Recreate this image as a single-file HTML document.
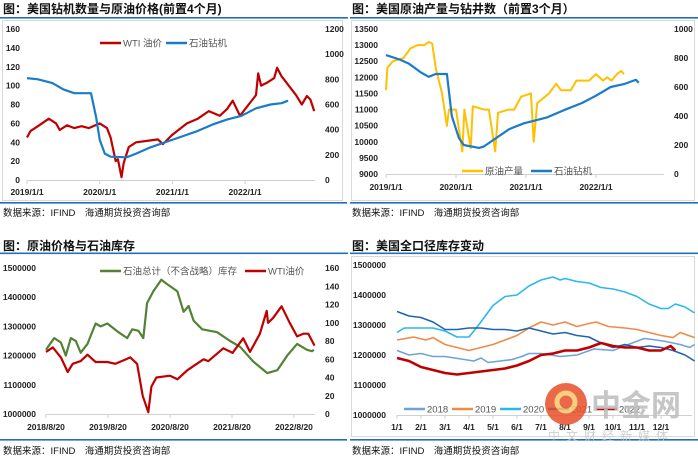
<!DOCTYPE html>
<html><head><meta charset="utf-8"><style>
body{margin:0;background:#fff;}
svg{display:block;font-family:"Liberation Sans","Noto Sans CJK SC",sans-serif;}
.tk{font-size:8.5px;font-weight:bold;fill:#222;}
.ttl{font-size:12px;font-weight:bold;fill:#111;}
.src{font-size:9.5px;fill:#111;}
.lg{font-size:9.5px;fill:#555;}
</style></head><body>
<svg id="s" width="698" height="457" viewBox="0 0 698 457">
<g>
 <text class="ttl" x="3" y="13">图：美国钻机数量与原油价格(前置4个月)</text>
 <rect x="0" y="17" width="348" height="1.6" fill="#1f6fbf"/>
 <rect x="2.5" y="20.5" width="340" height="180" fill="none" stroke="#d9d9d9"/>
 <rect x="0" y="202" width="347" height="1.6" fill="#1f6fbf"/>
 <text class="src" x="3" y="216">数据来源：IFIND　海通期货投资咨询部</text>
 <g id="c1"></g>
</g>
<g>
 <text class="ttl" x="352" y="13">图：美国原油产量与钻井数（前置3个月）</text>
 <rect x="350" y="17" width="348" height="1.6" fill="#1f6fbf"/>
 <rect x="351.5" y="20.5" width="343" height="180" fill="none" stroke="#d9d9d9"/>
 <rect x="350" y="202" width="348" height="1.6" fill="#1f6fbf"/>
 <text class="src" x="352" y="216">数据来源：IFIND　海通期货投资咨询部</text>
 <g id="c2"></g>
</g>
<g>
 <text class="ttl" x="3" y="250">图：原油价格与石油库存</text>
 <rect x="0" y="252.5" width="348" height="1.6" fill="#1f6fbf"/>
 <rect x="0" y="439" width="347" height="1.6" fill="#1f6fbf"/>
 <text class="src" x="3" y="454">数据来源：IFIND　海通期货投资咨询部</text>
 <g id="c3"></g>
</g>
<g>
 <text class="ttl" x="352" y="250">图：美国全口径库存变动</text>
 <rect x="350" y="252.5" width="348" height="1.6" fill="#1f6fbf"/>
 <rect x="351.5" y="256.5" width="343" height="180" fill="none" stroke="#d9d9d9"/>
 <rect x="350" y="439" width="348" height="1.6" fill="#1f6fbf"/>
 <text class="src" x="352" y="454">数据来源：IFIND　海通期货投资咨询部</text>
 <g id="c4"></g>
 <g opacity="0.85">
  <circle cx="566" cy="404" r="21" fill="#e8502a"/>
  <circle cx="566" cy="402" r="9" fill="none" stroke="#f7c66a" stroke-width="5"/>
  <text x="591" y="416" font-size="30" font-weight="bold" fill="#bdbdbd">中金网</text>
  <text x="548" y="440" font-size="12" fill="#c8c8c8" letter-spacing="6">中文财经新媒体</text>
 </g>
</g>
</svg>
<script>
// ---- Chart 1 data ----
const c1WtiDates=[2019.0,2019.05,2019.15,2019.3,2019.4,2019.45,2019.55,2019.65,2019.75,2019.85,2020.0,2020.1,2020.15,2020.22,2020.25,2020.3,2020.33,2020.4,2020.5,2020.7,2020.8,2020.87,2021.0,2021.2,2021.35,2021.5,2021.65,2021.75,2021.83,2021.93,2022.05,2022.15,2022.18,2022.22,2022.3,2022.4,2022.44,2022.5,2022.6,2022.7,2022.78,2022.85,2022.9,2022.95];
const c1WtiValues=[45,52,57,65,60,53,58,55,57,55,60,55,45,20,22,3,18,35,40,42,43,38,48,60,65,73,68,75,84,68,80,90,113,100,103,108,119,110,100,90,80,89,85,73];
const c1RigDates=[2019.0,2019.15,2019.35,2019.5,2019.65,2019.75,2019.88,2019.95,2020.0,2020.07,2020.15,2020.37,2020.5,2020.7,2020.95,2021.15,2021.35,2021.55,2021.75,2021.95,2022.15,2022.35,2022.5,2022.59];
const c1RigValues=[810,800,770,720,690,690,690,500,320,210,185,180,210,260,310,350,390,440,480,510,570,600,610,630];
const c1LeftTicks=[0,20,40,60,80,100,120,140,160];
const c1RightTicks=[0,200,400,600,800,1000,1200];
const c1XTicks=["2019/1/1","2020/1/1","2021/1/1","2022/1/1"];
// ---- Chart 2 data ----
const c2ProdDates=[2019.0,2019.02,2019.1,2019.25,2019.35,2019.45,2019.55,2019.61,2019.66,2019.71,2019.8,2019.87,2019.9,2020.0,2020.09,2020.12,2020.21,2020.24,2020.4,2020.47,2020.56,2020.6,2020.75,2020.83,2020.93,2021.07,2021.11,2021.16,2021.33,2021.43,2021.5,2021.64,2021.72,2021.9,2022.0,2022.1,2022.16,2022.22,2022.3,2022.36,2022.4];
const c2ProdValues=[11600,12300,12500,12600,12900,13000,13000,13100,13050,12300,11500,10500,11000,11000,9700,11000,9800,11100,11000,11000,9700,10900,11000,11000,11400,11500,10000,11200,11500,11800,11600,11600,11900,11900,12100,11900,12000,11900,12100,12200,12100];
const c2RigDates=[2019.0,2019.19,2019.33,2019.5,2019.61,2019.71,2019.87,2019.94,2020.04,2020.11,2020.33,2020.4,2020.61,2020.76,2020.97,2021.3,2021.54,2021.8,2022.0,2022.21,2022.4,2022.57,2022.61];
const c2RigValues=[820,790,760,700,670,690,690,400,250,200,180,190,260,310,350,390,440,490,540,600,620,650,630];
const c2LeftTicks=[9000,9500,10000,10500,11000,11500,12000,12500,13000,13500];
const c2RightTicks=[0,200,400,600,800,1000];
const c2XTicks=["2019/1/1","2020/1/1","2021/1/1","2022/1/1"];
// ---- Chart 3 data ----
const c3InvDates=[2018.64,2018.77,2018.88,2018.96,2019.04,2019.12,2019.2,2019.31,2019.44,2019.52,2019.63,2019.81,2019.95,2020.03,2020.13,2020.21,2020.27,2020.37,2020.5,2020.56,2020.76,2020.86,2020.94,2021.02,2021.16,2021.4,2021.61,2021.77,2021.98,2022.21,2022.37,2022.53,2022.69,2022.85,2022.93,2022.96];
const c3InvValues=[1220000,1260000,1245000,1200000,1260000,1250000,1210000,1240000,1310000,1300000,1310000,1280000,1260000,1290000,1285000,1260000,1380000,1420000,1460000,1450000,1420000,1350000,1370000,1320000,1290000,1280000,1250000,1230000,1180000,1140000,1150000,1200000,1240000,1220000,1215000,1220000];
const c3WtiDates=[2018.64,2018.75,2018.88,2018.99,2019.07,2019.2,2019.31,2019.44,2019.63,2019.76,2020.0,2020.11,2020.2,2020.29,2020.34,2020.42,2020.64,2020.76,2020.92,2021.18,2021.26,2021.5,2021.65,2021.82,2021.93,2022.09,2022.2,2022.22,2022.3,2022.44,2022.57,2022.69,2022.79,2022.87,2022.97];
const c3WtiValues=[68,73,62,46,55,58,65,57,57,55,62,55,20,2,30,40,42,38,48,60,58,72,67,83,68,88,113,100,105,118,100,85,88,88,75];
const c3LeftTicks=[1000000,1100000,1200000,1300000,1400000,1500000];
const c3RightTicks=[0,20,40,60,80,100,120,140,160];
const c3XTicks=["2018/8/20","2019/8/20","2020/8/20","2021/8/20","2022/8/20"];
// ---- Chart 4 data ----
const c4Months=["1/1","2/1","3/1","4/1","5/1","6/1","7/1","8/1","9/1","10/1","11/1","12/1"];
const c4Pos2018=[0,0.5,1,1.5,2,2.8,3.2,3.5,3.8,4.3,4.8,5.2,5.5,6,6.8,7.5,8.2,9,9.8,10.3,10.8,11.2,11.8,12.2,12.4];
const c4Val2018=[1215,1200,1205,1195,1195,1185,1180,1190,1175,1180,1185,1195,1205,1205,1195,1200,1220,1215,1240,1255,1250,1245,1235,1225,1235];
const c4Pos2019=[0,0.7,1.2,1.5,2,2.5,3,3.5,4,4.5,5,5.5,6,6.5,7,7.5,8,8.3,8.8,9.5,10,10.5,11,11.5,11.8,12.4];
const c4Val2019=[1250,1260,1250,1258,1235,1225,1215,1225,1235,1250,1265,1290,1310,1300,1310,1295,1305,1310,1295,1290,1285,1275,1265,1258,1275,1258];
const c4Pos2020=[0,0.3,1,1.5,2,2.5,3,3.4,4,4.5,5,5.5,6,6.5,6.8,7,7.5,8,8.5,9,9.5,10,10.5,11,11.3,11.6,12,12.4];
const c4Val2020=[1275,1290,1290,1290,1280,1260,1260,1300,1365,1395,1400,1430,1450,1460,1450,1455,1445,1440,1425,1420,1410,1395,1370,1355,1355,1370,1360,1340];
const c4Pos2021=[0,0.5,1,1.5,2,2.5,3,3.5,4,4.5,5,5.5,6,6.5,7,7.5,8,8.5,9,9.5,10,10.5,11,11.5,12,12.4];
const c4Val2021=[1345,1330,1325,1310,1285,1285,1290,1290,1285,1285,1280,1290,1280,1270,1275,1265,1260,1240,1225,1235,1225,1230,1225,1215,1200,1180];
const c4Pos2022=[0,0.5,1,1.5,2,2.5,3,3.5,4,4.5,5,5.5,6,6.5,7,7.5,8,8.5,9,9.5,10,10.5,11,11.4,11.6];
const c4Val2022=[1190,1180,1160,1150,1140,1135,1140,1145,1150,1155,1165,1180,1200,1205,1215,1215,1225,1240,1230,1225,1225,1215,1215,1230,1215];
const c4LeftTicks=[1000000,1100000,1200000,1300000,1400000,1500000];
const c4Legend=["2018","2019","2020","2021","2022"];

const NS="http://www.w3.org/2000/svg";
function mk(parent,tag,attrs){const e=document.createElementNS(NS,tag);for(const k in attrs)e.setAttribute(k,attrs[k]);parent.appendChild(e);return e;}
function lin(d0,d1,r0,r1){return v=>r0+(v-d0)/(d1-d0)*(r1-r0);}
function line(g,xs,ys,fx,fy,color,w,name){
  const p=mk(g,'polyline',{points:xs.map((x,i)=>fx(x).toFixed(1)+','+fy(ys[i]).toFixed(1)).join(' '),fill:'none',stroke:color,'stroke-width':w,'stroke-linejoin':'round'});
  
  
  return p;
}
function tickText(g,x,y,s,anchor,name){const t=mk(g,'text',{x:x,y:y,'text-anchor':anchor,class:'tk'});t.textContent=s;
  
  
  return t;}
function legend(g,x,y,color,label,name){mk(g,'line',{x1:x,y1:y,x2:x+21,y2:y,stroke:color,'stroke-width':2.6});const t=mk(g,'text',{x:x+23,y:y+3.5,class:'lg'});t.textContent=label;
  
  }

// Chart 1
(function(){const g=document.getElementById('c1');
 const fx=lin(2019,2020,27,99.7),fyL=lin(0,160,180,29),fyR=lin(0,1200,180,29);
 mk(g,'line',{x1:27,y1:180.5,x2:315,y2:180.5,stroke:'#d0d0d0'});
 c1XTicks.forEach((s,i)=>{const x=fx(2019+i);mk(g,'line',{x1:x,y1:180,x2:x,y2:184,stroke:'#d0d0d0'});tickText(g,x,195,s,'middle','x-tick-label');});
 c1LeftTicks.forEach(v=>tickText(g,20,fyL(v)+3,String(v),'end','left-tick-label'));
 c1RightTicks.forEach(v=>tickText(g,325,fyR(v)+3,String(v),'start','right-tick-label'));
 line(g,c1WtiDates,c1WtiValues,fx,fyL,'#c00000',2.2,'wti-price-line');
 line(g,c1RigDates,c1RigValues,fx,fyR,'#1a7cc9',2.2,'oil-rig-line');
 legend(g,100,43,'#c00000','WTI 油价','legend-wti');legend(g,166,43,'#1a7cc9','石油钻机','legend-rig');})();
// Chart 2
(function(){const g=document.getElementById('c2');
 const fx=lin(2019,2020,386,456),fyL=lin(9000,13500,174,29),fyR=lin(0,1000,174,29);
 mk(g,'line',{x1:386,y1:174.5,x2:664,y2:174.5,stroke:'#d0d0d0'});
 c2XTicks.forEach((s,i)=>{const x=fx(2019+i);mk(g,'line',{x1:x,y1:174,x2:x,y2:178,stroke:'#d0d0d0'});tickText(g,x,190,s,'middle','x-tick-label');});
 c2LeftTicks.forEach(v=>tickText(g,378,fyL(v)+3,String(v),'end','left-tick-label'));
 c2RightTicks.forEach(v=>tickText(g,674,fyR(v)+3,String(v),'start','right-tick-label'));
 line(g,c2ProdDates,c2ProdValues,fx,fyL,'#ffc000',2,'production-line');
 line(g,c2RigDates,c2RigValues,fx,fyR,'#1a7cc9',2.2,'rig-count-line');
 legend(g,462,171,'#ffc000','原油产量','legend-production');legend(g,531,171,'#1a7cc9','石油钻机','legend-rig');})();
// Chart 3
(function(){const g=document.getElementById('c3');
 const fx=lin(2018.64,2019.64,46,108),fyL=lin(1000000,1500000,414,268),fyR=lin(0,160,414,268);
 mk(g,'line',{x1:46,y1:414.5,x2:315,y2:414.5,stroke:'#d0d0d0'});
 c3XTicks.forEach((s,i)=>{const x=fx(2018.64+i);mk(g,'line',{x1:x,y1:414,x2:x,y2:418,stroke:'#d0d0d0'});tickText(g,x,430,s,'middle','x-tick-label');});
 c3LeftTicks.forEach(v=>tickText(g,36,fyL(v)+3,String(v),'end','left-tick-label'));
 c3RightTicks.forEach(v=>tickText(g,325,fyR(v)+3,String(v),'start','right-tick-label'));
 line(g,c3InvDates,c3InvValues,fx,fyL,'#548235',2.2,'inventory-line');
 line(g,c3WtiDates,c3WtiValues,fx,fyR,'#c00000',2.2,'wti-price-line');
 legend(g,100,271,'#548235','石油总计（不含战略）库存','legend-inventory');legend(g,245,271,'#c00000','WTI油价','legend-wti');})();
// Chart 4
(function(){const g=document.getElementById('c4');
 const fx=lin(0,1,397,421),fy=lin(1000,1500,415,265),fyT=lin(1000000,1500000,415,265);
 mk(g,'line',{x1:397,y1:415.5,x2:692,y2:415.5,stroke:'#d0d0d0'});
 c4Months.forEach((s,i)=>{const x=fx(i);mk(g,'line',{x1:x,y1:415,x2:x,y2:419,stroke:'#d0d0d0'});tickText(g,x,430,s,'middle','x-tick-label');});
 c4LeftTicks.forEach(v=>tickText(g,386,fyT(v)+3,String(v),'end','left-tick-label'));
 const cols=['#6fa3d8','#f08a48','#2db7ee','#1f64b0','#c00000'];
 const P=[c4Pos2018,c4Pos2019,c4Pos2020,c4Pos2021,c4Pos2022],V=[c4Val2018,c4Val2019,c4Val2020,c4Val2021,c4Val2022];
 P.forEach((p,i)=>line(g,p,V[i],fx,fy,cols[i],i===4?2.6:1.6,'series-'+c4Legend[i]));
 c4Legend.forEach((s,i)=>legend(g,404+i*48,409,cols[i],s,'legend-'+s));})();
</script>
</body></html>
